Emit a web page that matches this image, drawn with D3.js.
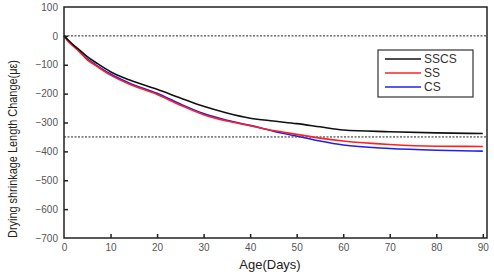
<!DOCTYPE html>
<html lang="en">
<head>
    <meta charset="UTF-8">
    <title>Drying shrinkage</title>
    <style>
        body { margin: 0; padding: 0; background: #fff; }
        svg { display: block; font-family: Arial, "Liberation Sans", sans-serif; }
        .tick text { fill: #555; font-size: 10px; }
        .legend text { font-size: 12px; fill: #333; }
    </style>
</head>
<body>
    <div id="chart"></div>
    <script src="https://cdnjs.cloudflare.com/ajax/libs/d3/7.8.5/d3.min.js"></script>
    <script>
        // data
        const days   = [0, 1, 2, 3, 5, 7, 10, 14, 20, 25, 30, 35, 40, 45, 50, 55, 60, 70, 80, 90];
        const sscs   = [0, -16, -31, -44, -72, -94, -124, -152, -185, -215, -244, -267, -285, -295, -304, -315, -326, -332, -336, -338];
        const ss     = [0, -20, -36, -50, -83, -105, -136, -167, -203, -240, -273, -295, -311, -328, -341, -354, -364, -376, -382, -383];
        const cs     = [0, -19, -34, -48, -80, -102, -132, -163, -199, -236, -269, -292, -310, -330, -347, -364, -378, -390, -396, -399];
        const seriesNames  = ["SSCS", "SS", "CS"];
        const seriesColors = ["#111", "#ff2020", "#2020ee"];
        const xTicks = [0, 10, 20, 30, 40, 50, 60, 70, 80, 90];
        const yTicks = [100, 0, -100, -200, -300, -400, -500, -600, -700];
        const refLines = [0, -350];

        const width = 494, height = 274;
        const margin = {left: 64, right: 7, top: 7, bottom: 36};

        const svg = d3.select('#chart').append('svg')
            .attr('width', width)
            .attr('height', height);

        const x = d3.scaleLinear().domain([0, 90.9]).range([margin.left, width - margin.right]);
        const y = d3.scaleLinear().domain([-700, 100]).range([height - margin.bottom, margin.top]);

        // dashed reference lines
        svg.selectAll('.ref')
            .data(refLines)
            .enter().append('line')
            .attr('x1', x(0)).attr('x2', x(90.9))
            .attr('y1', d => y(d)).attr('y2', d => y(d))
            .attr('stroke', '#222')
            .attr('stroke-width', 1)
            .attr('stroke-dasharray', '2,1.5');

        // curves
        const allSeries = [sscs, ss, cs];
        const line = d3.line()
            .x((d, i) => x(days[i]))
            .y(d => y(d))
            .curve(d3.curveMonotoneX);

        [2, 1, 0].forEach(k => {
            svg.append('path')
                .datum(allSeries[k])
                .attr('fill', 'none')
                .attr('stroke', seriesColors[k])
                .attr('stroke-width', 1.6)
                .attr('d', line);
        });

        // frame
        svg.append('rect')
            .attr('x', x(0)).attr('y', y(100))
            .attr('width', x(90.9) - x(0))
            .attr('height', y(-700) - y(100))
            .attr('fill', 'none')
            .attr('stroke', '#222')
            .attr('stroke-width', 1.5);

        // axes, ticks pointing inward
        const xAxis = svg.append('g')
            .attr('transform', `translate(0,${y(-700)})`)
            .call(d3.axisBottom(x).tickValues(xTicks).tickSize(-4).tickPadding(6));
        const yAxis = svg.append('g')
            .attr('transform', `translate(${x(0)},0)`)
            .call(d3.axisLeft(y).tickValues(yTicks).tickSize(-4).tickPadding(6));
        [xAxis, yAxis].forEach(a => {
            a.select('.domain').remove();
            a.selectAll('.tick line').attr('stroke', '#222').attr('stroke-width', 1.5);
        });
        xAxis.selectAll('.tick').filter(d => d === 0).select('line').remove();
        yAxis.selectAll('.tick').filter(d => d === 100 || d === -700).select('line').remove();

        // axis titles
        svg.append('text')
            .attr('x', 270).attr('y', 269)
            .attr('text-anchor', 'middle')
            .attr('font-size', 13)
            .attr('fill', '#222')
            .text('Age(Days)');

        svg.append('text')
            .attr('transform', `translate(17,149) rotate(-90)`)
            .attr('text-anchor', 'middle')
            .attr('font-size', 13)
            .attr('fill', '#222')
            .attr('textLength', 178)
            .attr('lengthAdjust', 'spacingAndGlyphs')
            .text('Drying shrinkage Length Change(με)');

        // legend
        const legend = svg.append('g').attr('class', 'legend');
        legend.append('rect')
            .attr('x', 378).attr('y', 50)
            .attr('width', 95).attr('height', 47)
            .attr('fill', '#fff')
            .attr('stroke', '#333')
            .attr('stroke-width', 1.2);
        seriesNames.forEach((name, i) => {
            const ly = 59 + i * 14;
            legend.append('line')
                .attr('x1', 385).attr('x2', 421)
                .attr('y1', ly).attr('y2', ly)
                .attr('stroke', seriesColors[i])
                .attr('stroke-width', 1.6);
            legend.append('text')
                .attr('x', 424).attr('y', ly + 4)
                .text(name);
        });
    </script>
</body>
</html>
